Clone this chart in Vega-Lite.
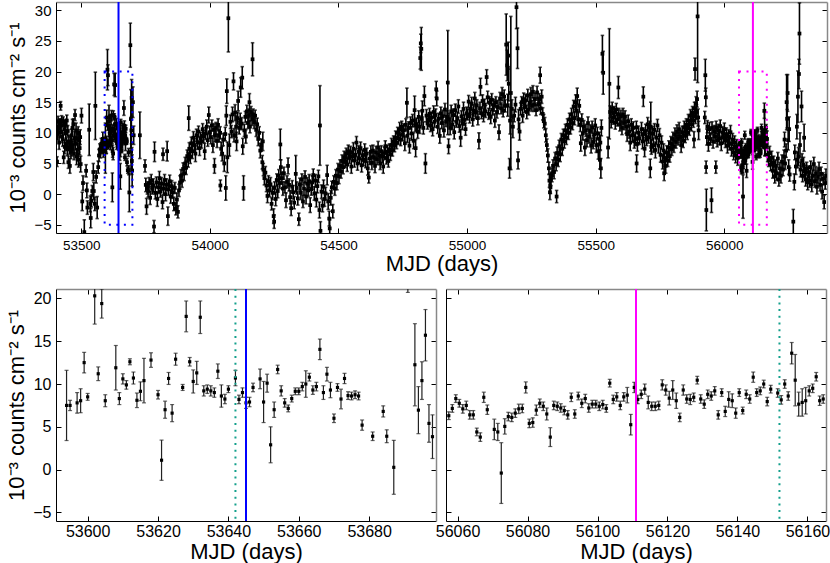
{
"$schema":"https://vega.github.io/schema/vega-lite/v6.json",
"padding":{"left":5,"top":1,"right":2,"bottom":2},
"config":{"view":{"stroke":null},"font":"Liberation Sans","axis":{"grid":false,"domainColor":"#000","tickColor":"#000","labelColor":"#000","titleColor":"#000","titleFontWeight":"normal","labelFont":"Liberation Sans","titleFont":"Liberation Sans","labelFlush":false,"labelOverlap":false,"labelBound":false,"tickSize":-5}},
"datasets":{"lc":[
{"t":53403,"f":11.0,"e":0.9},{"t":53406,"f":5.3,"e":0.8},{"t":53408,"f":9.8,"e":1.0},{"t":53410,"f":11.9,"e":0.8},{"t":53412,"f":10.7,"e":0.9},{"t":53414,"f":8.4,"e":1.1},{"t":53416,"f":11.5,"e":0.8},{"t":53418,"f":10.1,"e":0.9},{"t":53420,"f":14.4,"e":0.7},{"t":53422,"f":11.2,"e":1.0},{"t":53424,"f":12.0,"e":0.8},{"t":53426,"f":9.4,"e":1.0},{"t":53428,"f":8.9,"e":1.1},{"t":53430,"f":11.8,"e":0.8},{"t":53432,"f":6.0,"e":1.0},{"t":53434,"f":10.6,"e":0.9},{"t":53436,"f":7.7,"e":1.1},{"t":53438,"f":11.3,"e":0.9},{"t":53440,"f":9.9,"e":1.0},{"t":53442,"f":8.2,"e":1.0},{"t":53444,"f":12.0,"e":0.9},{"t":53446,"f":7.3,"e":1.0},{"t":53448,"f":10.3,"e":0.9},{"t":53450,"f":5.2,"e":1.0},{"t":53452,"f":8.6,"e":1.0},{"t":53454,"f":7.6,"e":1.1},{"t":53456,"f":4.6,"e":1.2},{"t":53458,"f":8.4,"e":0.9},{"t":53460,"f":6.9,"e":1.1},{"t":53462,"f":9.6,"e":1.0},{"t":53464,"f":7.4,"e":1.2},{"t":53466,"f":10.8,"e":1.4},{"t":53468,"f":8.0,"e":1.0},{"t":53470,"f":11.4,"e":0.9},{"t":53472,"f":6.6,"e":1.0},{"t":53474,"f":9.1,"e":1.1},{"t":53476,"f":12.9,"e":0.9},{"t":53478,"f":8.3,"e":1.1},{"t":53480,"f":10.4,"e":1.2},{"t":53482,"f":6.1,"e":1.3},{"t":53484,"f":9.0,"e":1.0},{"t":53486,"f":7.2,"e":1.1},{"t":53488,"f":10.0,"e":1.0},{"t":53490,"f":5.6,"e":1.2},{"t":53492,"f":8.8,"e":1.0},{"t":53494,"f":7.5,"e":1.1},{"t":53496,"f":9.3,"e":1.2},{"t":53498,"f":4.9,"e":1.3},{"t":53501,"f":12.8,"e":1.2},
{"t":53504,"f":-1.2,"e":1.5},{"t":53507,"f":1.8,"e":1.2},{"t":53512,"f":-6.2,"e":2.0},{"t":53519,"f":3.8,"e":1.0},{"t":53522,"f":0.6,"e":1.2},{"t":53524,"f":-2.2,"e":1.1},{"t":53531,"f":10.5,"e":4.2},{"t":53535,"f":-1.6,"e":1.3},{"t":53537,"f":-3.9,"e":1.6},{"t":53540,"f":-1.1,"e":1.0},{"t":53543,"f":0.5,"e":0.9},{"t":53547,"f":3.6,"e":1.4},{"t":53549,"f":0.5,"e":1.4},{"t":53553,"f":-1.6,"e":1.1},{"t":53555,"f":14.4,"e":5.5},{"t":53558,"f":2.8,"e":1.0},{"t":53562,"f":-2.2,"e":1.8},{"t":53566,"f":4.4,"e":1.0},{"t":53569,"f":6.3,"e":1.0},{"t":53572,"f":7.3,"e":0.9},{"t":53575,"f":6.9,"e":1.0},{"t":53578,"f":8.2,"e":0.9},{"t":53581,"f":7.6,"e":1.0},{"t":53584,"f":9.0,"e":1.1},{"t":53586,"f":7.0,"e":1.0},{"t":53588,"f":8.4,"e":0.9},
{"t":53594,"f":7.5,"e":4.1},{"t":53595,"f":7.5,"e":0.6},{"t":53597,"f":7.8,"e":1.2},{"t":53598,"f":8.05,"e":1.4},{"t":53599,"f":12.5,"e":1.2},{"t":53600,"f":8.5,"e":0.4},{"t":53602,"f":20.3,"e":3.3},{"t":53603,"f":11.2,"e":0.8},{"t":53604,"f":19.4,"e":1.7},{"t":53605,"f":8.05,"e":0.7},{"t":53608,"f":11.9,"e":2.6},{"t":53609,"f":8.3,"e":0.7},{"t":53610,"f":10.6,"e":0.6},{"t":53611,"f":9.9,"e":0.5},{"t":53612,"f":12.6,"e":0.35},{"t":53613,"f":10.7,"e":0.7},{"t":53614,"f":8.1,"e":0.85},{"t":53615,"f":9.15,"e":1.1},{"t":53616,"f":10.4,"e":2.6},{"t":53618,"f":12.8,"e":0.85},{"t":53620,"f":8.75,"e":0.5},{"t":53621,"f":1.1,"e":2.35},{"t":53622,"f":7.0,"e":1.0},{"t":53623,"f":10.65,"e":0.7},{"t":53624,"f":6.6,"e":1.0},{"t":53625,"f":12.9,"e":0.7},{"t":53627,"f":9.6,"e":0.35},{"t":53628,"f":17.9,"e":1.8},{"t":53629,"f":12.6,"e":0.5},{"t":53630,"f":10.3,"e":1.35},{"t":53631,"f":11.3,"e":1.35},{"t":53632,"f":17.8,"e":1.9},{"t":53633,"f":9.2,"e":0.6},{"t":53634,"f":9.4,"e":0.5},{"t":53635,"f":9.2,"e":0.6},{"t":53636,"f":9.0,"e":0.55},{"t":53637,"f":11.5,"e":0.85},{"t":53638,"f":8.6,"e":1.3},{"t":53639,"f":8.25,"e":0.55},{"t":53640,"f":9.4,"e":0.4},{"t":53642,"f":10.7,"e":0.9},{"t":53643,"f":8.2,"e":0.5},{"t":53644,"f":9.0,"e":0.55},{"t":53645,"f":7.8,"e":0.65},{"t":53646,"f":7.9,"e":0.55},{"t":53647,"f":9.6,"e":0.5},{"t":53649,"f":10.6,"e":1.15},{"t":53650,"f":7.9,"e":2.4},{"t":53651,"f":10.1,"e":1.05},{"t":53652,"f":2.9,"e":2.1},{"t":53653,"f":7.0,"e":0.9},{"t":53654,"f":11.7,"e":0.5},{"t":53655,"f":9.2,"e":0.6},{"t":53656,"f":7.8,"e":0.5},{"t":53657,"f":7.15,"e":0.4},{"t":53658,"f":8.3,"e":0.4},{"t":53659,"f":9.15,"e":0.4},{"t":53660,"f":9.15,"e":0.4},{"t":53661,"f":9.7,"e":0.5},{"t":53662,"f":10.0,"e":1.55},{"t":53663,"f":10.8,"e":0.45},{"t":53664,"f":9.3,"e":0.5},{"t":53665,"f":9.7,"e":0.5},{"t":53666,"f":14.05,"e":1.2},{"t":53667,"f":9.0,"e":0.8},{"t":53668,"f":11.15,"e":0.8},{"t":53669,"f":9.3,"e":0.9},{"t":53670,"f":6.0,"e":0.5},{"t":53671,"f":9.6,"e":0.45},{"t":53672,"f":8.25,"e":1.15},{"t":53673,"f":10.65,"e":0.6},{"t":53674,"f":8.65,"e":0.45},{"t":53675,"f":8.6,"e":0.45},{"t":53676,"f":8.75,"e":0.45},{"t":53677,"f":8.6,"e":0.45},{"t":53678,"f":5.2,"e":0.6},{"t":53681,"f":3.9,"e":0.5},{"t":53684,"f":6.8,"e":0.65},{"t":53685,"f":3.9,"e":0.75},{"t":53687,"f":0.27,"e":3.15},{"t":53691,"f":24.3,"e":3.6},{"t":53693,"f":12.25,"e":4.8},{"t":53694,"f":6.95,"e":2.75},{"t":53695,"f":10.4,"e":2.2},{"t":53696,"f":15.7,"e":3.0},{"t":53697,"f":5.4,"e":2.2},{"t":53698,"f":3.85,"e":2.55},{"t":53701,"f":15.0,"e":2.5},{"t":53704,"f":9.6,"e":1.5},{"t":53728,"f":9.6,"e":3.8},
{"t":53748,"f":4.6,"e":1.0},{"t":53751,"f":1.5,"e":1.1},{"t":53754,"f":-2.0,"e":1.3},{"t":53757,"f":1.0,"e":1.0},{"t":53760,"f":0.5,"e":1.0},{"t":53764,"f":1.8,"e":0.9},{"t":53768,"f":-0.6,"e":1.1},{"t":53772,"f":2.2,"e":1.0},{"t":53776,"f":0.9,"e":0.9},{"t":53780,"f":1.4,"e":1.1},{"t":53783,"f":-5.3,"e":1.0},{"t":53785,"f":6.9,"e":1.6},{"t":53788,"f":0.2,"e":1.0},{"t":53792,"f":1.9,"e":0.9},{"t":53796,"f":-0.8,"e":1.2},{"t":53800,"f":1.1,"e":1.0},{"t":53804,"f":2.6,"e":1.1},{"t":53808,"f":0.4,"e":0.9},{"t":53812,"f":1.7,"e":1.0},{"t":53816,"f":-1.3,"e":1.1},{"t":53818,"f":6.5,"e":1.0},{"t":53820,"f":0.9,"e":1.0},{"t":53824,"f":2.3,"e":0.9},{"t":53828,"f":0.0,"e":1.1},{"t":53832,"f":1.5,"e":1.0},{"t":53834,"f":7.0,"e":1.6},{"t":53837,"f":-3.6,"e":1.5},{"t":53840,"f":0.8,"e":1.0},{"t":53844,"f":2.1,"e":1.0},{"t":53848,"f":-0.4,"e":1.1},{"t":53852,"f":1.3,"e":0.9},{"t":53856,"f":0.3,"e":1.0},{"t":53860,"f":-1.6,"e":1.1},{"t":53864,"f":1.0,"e":0.9},{"t":53868,"f":-2.4,"e":1.0},{"t":53872,"f":-0.9,"e":1.1},{"t":53876,"f":-2.9,"e":1.0},{"t":53880,"f":0.6,"e":1.0},{"t":53884,"f":1.9,"e":1.1},{"t":53888,"f":3.0,"e":1.0},{"t":53892,"f":2.2,"e":1.1},{"t":53896,"f":4.1,"e":1.0},{"t":53900,"f":3.4,"e":1.2},{"t":53904,"f":5.0,"e":1.0},{"t":53908,"f":4.3,"e":1.1},{"t":53912,"f":6.2,"e":1.0},{"t":53916,"f":5.6,"e":1.2},{"t":53918,"f":12.4,"e":2.0},{"t":53920,"f":7.4,"e":1.0},{"t":53924,"f":6.1,"e":1.1},{"t":53928,"f":8.3,"e":1.0},{"t":53932,"f":7.0,"e":1.2},{"t":53936,"f":9.2,"e":1.0},{"t":53940,"f":8.0,"e":1.1},{"t":53944,"f":6.6,"e":1.3},{"t":53948,"f":9.6,"e":1.0},{"t":53952,"f":8.4,"e":1.1},{"t":53956,"f":10.2,"e":0.9},{"t":53960,"f":7.5,"e":1.2},{"t":53964,"f":9.1,"e":1.0},{"t":53968,"f":8.6,"e":1.1},{"t":53972,"f":10.6,"e":0.9},{"t":53976,"f":9.4,"e":1.0},{"t":53980,"f":7.0,"e":1.3},{"t":53984,"f":9.9,"e":1.0},{"t":53988,"f":11.0,"e":1.1},{"t":53992,"f":8.8,"e":1.0},{"t":53996,"f":12.9,"e":1.3},
{"t":54000,"f":10.1,"e":1.0},{"t":54004,"f":9.3,"e":1.1},{"t":54008,"f":11.2,"e":0.9},{"t":54012,"f":8.0,"e":1.2},{"t":54016,"f":10.5,"e":1.0},{"t":54018,"f":4.6,"e":1.2},{"t":54020,"f":9.6,"e":1.1},{"t":54024,"f":10.8,"e":0.9},{"t":54028,"f":8.7,"e":1.1},{"t":54032,"f":11.3,"e":1.0},{"t":54036,"f":9.5,"e":1.0},{"t":54040,"f":10.0,"e":1.0},{"t":54041,"f":1.4,"e":0.9},{"t":54044,"f":7.4,"e":1.1},{"t":54048,"f":6.6,"e":1.2},{"t":54052,"f":8.9,"e":1.0},{"t":54056,"f":5.0,"e":1.3},{"t":54060,"f":9.8,"e":1.1},{"t":54062,"f":1.0,"e":2.0},{"t":54064,"f":12.8,"e":1.6},{"t":54066,"f":16.8,"e":2.0},{"t":54068,"f":6.0,"e":2.5},{"t":54072,"f":28.7,"e":5.5},{"t":54076,"f":8.0,"e":1.8},
{"t":54080,"f":11.8,"e":1.1},{"t":54084,"f":10.2,"e":1.0},{"t":54088,"f":13.0,"e":1.2},{"t":54092,"f":18.4,"e":1.4},{"t":54094,"f":9.6,"e":1.1},{"t":54098,"f":13.3,"e":1.3},{"t":54102,"f":11.0,"e":1.8},{"t":54104,"f":8.6,"e":1.5},{"t":54108,"f":12.4,"e":1.0},{"t":54110,"f":15.2,"e":1.6},{"t":54114,"f":10.8,"e":1.0},{"t":54118,"f":12.1,"e":1.1},{"t":54120,"f":17.4,"e":1.6},{"t":54124,"f":11.5,"e":1.0},{"t":54126,"f":19.0,"e":1.8},{"t":54128,"f":7.8,"e":1.3},{"t":54131,"f":1.0,"e":2.0},{"t":54134,"f":10.4,"e":1.0},{"t":54138,"f":12.6,"e":0.9},{"t":54140,"f":9.4,"e":1.1},{"t":54144,"f":13.5,"e":1.0},{"t":54148,"f":11.6,"e":0.9},{"t":54152,"f":12.9,"e":1.0},{"t":54154,"f":15.0,"e":1.4},{"t":54156,"f":11.0,"e":1.0},{"t":54160,"f":13.4,"e":0.9},{"t":54164,"f":12.2,"e":1.0},{"t":54166,"f":22.0,"e":2.7},{"t":54168,"f":13.0,"e":0.9},{"t":54172,"f":11.7,"e":1.0},{"t":54176,"f":12.8,"e":0.9},{"t":54180,"f":10.5,"e":1.1},{"t":54184,"f":11.4,"e":1.0},{"t":54188,"f":9.0,"e":1.1},{"t":54192,"f":10.0,"e":1.0},{"t":54196,"f":7.1,"e":1.2},{"t":54200,"f":8.0,"e":1.0},{"t":54204,"f":5.2,"e":1.1},{"t":54206,"f":8.6,"e":1.5},{"t":54208,"f":4.0,"e":1.0},{"t":54212,"f":2.6,"e":1.1},{"t":54216,"f":3.5,"e":1.0},
{"t":54220,"f":1.4,"e":1.0},{"t":54224,"f":-0.3,"e":1.1},{"t":54228,"f":2.1,"e":0.9},{"t":54232,"f":0.6,"e":1.0},{"t":54236,"f":1.6,"e":1.1},{"t":54240,"f":-1.6,"e":1.0},{"t":54244,"f":0.2,"e":1.1},{"t":54248,"f":-3.6,"e":1.2},{"t":54250,"f":-4.5,"e":1.1},{"t":54252,"f":1.0,"e":1.0},{"t":54256,"f":-0.8,"e":1.1},{"t":54260,"f":2.3,"e":1.0},{"t":54264,"f":0.5,"e":1.1},{"t":54268,"f":3.0,"e":1.0},{"t":54272,"f":1.8,"e":0.9},{"t":54274,"f":8.1,"e":2.5},{"t":54276,"f":4.4,"e":1.2},{"t":54280,"f":2.6,"e":1.0},{"t":54284,"f":0.9,"e":1.1},{"t":54288,"f":3.4,"e":1.0},{"t":54292,"f":1.1,"e":0.9},{"t":54296,"f":-1.0,"e":1.2},{"t":54300,"f":2.0,"e":1.0},{"t":54304,"f":4.6,"e":1.3},{"t":54308,"f":1.5,"e":1.0},{"t":54312,"f":-0.5,"e":1.1},{"t":54316,"f":-2.3,"e":1.2},{"t":54320,"f":1.2,"e":1.0},{"t":54324,"f":0.3,"e":1.1},{"t":54328,"f":-1.4,"e":1.0},
{"t":54334,"f":3.3,"e":3.0},{"t":54338,"f":1.0,"e":1.0},{"t":54342,"f":-0.7,"e":1.1},{"t":54346,"f":-4.1,"e":1.0},{"t":54350,"f":1.6,"e":1.0},{"t":54354,"f":0.2,"e":1.1},{"t":54358,"f":2.4,"e":0.9},{"t":54362,"f":-1.2,"e":1.0},{"t":54366,"f":0.9,"e":1.1},{"t":54370,"f":2.8,"e":1.0},{"t":54374,"f":-0.4,"e":1.2},{"t":54378,"f":1.7,"e":1.0},{"t":54382,"f":0.6,"e":1.0},{"t":54386,"f":2.1,"e":1.1},{"t":54390,"f":-1.8,"e":1.2},{"t":54394,"f":0.8,"e":1.0},{"t":54398,"f":1.9,"e":1.1},{"t":54402,"f":3.1,"e":1.0},{"t":54406,"f":0.1,"e":1.1},{"t":54410,"f":2.2,"e":1.0},{"t":54414,"f":-0.9,"e":1.2},{"t":54418,"f":1.3,"e":1.1},{"t":54422,"f":2.9,"e":1.0},{"t":54426,"f":-2.6,"e":1.3},{"t":54428,"f":11.2,"e":6.5},{"t":54430,"f":-6.0,"e":1.5},{"t":54434,"f":0.4,"e":1.1},{"t":54438,"f":-1.9,"e":1.0},{"t":54442,"f":1.2,"e":1.1},{"t":54446,"f":-0.8,"e":1.2},{"t":54450,"f":0.1,"e":1.0},{"t":54456,"f":3.1,"e":1.6},{"t":54460,"f":-1.2,"e":1.3},{"t":54464,"f":-4.0,"e":1.2},{"t":54466,"f":-5.6,"e":1.4},{"t":54470,"f":-0.6,"e":1.2},{"t":54474,"f":1.1,"e":1.0},{"t":54478,"f":-2.8,"e":1.1},{"t":54482,"f":2.0,"e":1.0},{"t":54486,"f":0.9,"e":1.1},{"t":54490,"f":3.0,"e":1.0},{"t":54494,"f":1.8,"e":1.1},{"t":54498,"f":4.0,"e":1.0},{"t":54502,"f":2.9,"e":1.2},{"t":54506,"f":4.6,"e":1.0},{"t":54510,"f":3.7,"e":1.1},{"t":54514,"f":5.4,"e":1.0},{"t":54518,"f":4.4,"e":1.1},{"t":54522,"f":6.0,"e":1.0},
{"t":54526,"f":5.3,"e":1.0},{"t":54530,"f":6.6,"e":0.9},{"t":54534,"f":4.8,"e":1.1},{"t":54538,"f":7.0,"e":1.0},{"t":54542,"f":5.9,"e":0.9},{"t":54546,"f":6.8,"e":1.0},{"t":54550,"f":4.5,"e":1.1},{"t":54554,"f":6.2,"e":0.9},{"t":54558,"f":7.4,"e":1.0},{"t":54562,"f":5.5,"e":1.1},{"t":54566,"f":6.4,"e":0.9},{"t":54570,"f":8.4,"e":1.0},{"t":54574,"f":5.0,"e":1.1},{"t":54578,"f":6.9,"e":1.0},{"t":54582,"f":5.8,"e":0.9},{"t":54586,"f":7.5,"e":1.0},{"t":54590,"f":4.7,"e":1.1},{"t":54594,"f":6.3,"e":0.9},{"t":54598,"f":5.6,"e":1.0},{"t":54602,"f":7.2,"e":1.0},{"t":54606,"f":5.4,"e":1.1},{"t":54610,"f":6.6,"e":0.9},{"t":54614,"f":4.2,"e":1.1},{"t":54618,"f":2.7,"e":0.9},{"t":54622,"f":5.8,"e":1.0},{"t":54626,"f":6.9,"e":1.0},{"t":54630,"f":5.1,"e":1.1},{"t":54634,"f":7.1,"e":0.9},{"t":54638,"f":6.0,"e":1.0},{"t":54642,"f":4.6,"e":1.1},{"t":54646,"f":6.8,"e":1.0},{"t":54650,"f":5.7,"e":0.9},{"t":54654,"f":7.6,"e":1.0},{"t":54658,"f":6.3,"e":1.1},{"t":54662,"f":5.0,"e":1.0},{"t":54666,"f":7.0,"e":0.9},{"t":54670,"f":6.1,"e":1.0},{"t":54674,"f":4.5,"e":1.1},{"t":54678,"f":6.7,"e":1.0},{"t":54682,"f":7.8,"e":0.9},{"t":54686,"f":5.9,"e":1.0},{"t":54690,"f":6.9,"e":1.1},{"t":54694,"f":5.4,"e":1.0},{"t":54698,"f":7.3,"e":0.9},{"t":54702,"f":6.5,"e":1.0},{"t":54706,"f":8.0,"e":1.1},
{"t":54710,"f":7.2,"e":1.0},{"t":54714,"f":8.6,"e":0.9},{"t":54718,"f":7.9,"e":1.0},{"t":54722,"f":9.2,"e":1.1},{"t":54726,"f":8.4,"e":1.0},{"t":54730,"f":10.0,"e":0.9},{"t":54734,"f":9.1,"e":1.0},{"t":54738,"f":10.6,"e":1.1},{"t":54742,"f":8.9,"e":1.0},{"t":54746,"f":11.0,"e":0.9},{"t":54750,"f":9.7,"e":1.0},{"t":54754,"f":10.4,"e":1.1},{"t":54758,"f":8.3,"e":1.2},{"t":54762,"f":11.3,"e":1.0},{"t":54766,"f":14.9,"e":2.4},{"t":54768,"f":9.5,"e":1.1},{"t":54772,"f":10.8,"e":1.0},{"t":54776,"f":7.9,"e":1.2},{"t":54780,"f":11.6,"e":1.0},{"t":54784,"f":9.9,"e":1.1},{"t":54788,"f":12.0,"e":1.0},{"t":54792,"f":8.7,"e":1.3},{"t":54796,"f":13.7,"e":2.3},{"t":54798,"f":11.2,"e":1.0},{"t":54800,"f":7.5,"e":1.4},{"t":54804,"f":11.4,"e":1.0},{"t":54808,"f":10.2,"e":1.1},{"t":54812,"f":12.6,"e":1.0},{"t":54816,"f":11.0,"e":1.1},{"t":54818,"f":22.2,"e":1.8},{"t":54820,"f":24.6,"e":1.5},{"t":54822,"f":23.7,"e":3.5},{"t":54824,"f":12.4,"e":1.2},{"t":54826,"f":13.6,"e":1.6},{"t":54830,"f":10.8,"e":1.0},{"t":54834,"f":16.0,"e":1.6},{"t":54838,"f":5.0,"e":1.6},{"t":54842,"f":12.8,"e":1.0},{"t":54846,"f":11.5,"e":0.9},
{"t":54850,"f":12.0,"e":1.0},{"t":54854,"f":13.1,"e":0.9},{"t":54858,"f":11.2,"e":1.0},{"t":54862,"f":12.5,"e":0.9},{"t":54866,"f":10.6,"e":1.1},{"t":54870,"f":13.4,"e":1.0},{"t":54874,"f":11.8,"e":0.9},{"t":54878,"f":12.9,"e":1.0},{"t":54880,"f":17.1,"e":1.3},{"t":54882,"f":15.6,"e":1.2},{"t":54886,"f":11.0,"e":1.1},{"t":54890,"f":12.3,"e":0.9},{"t":54894,"f":9.5,"e":1.2},{"t":54898,"f":13.2,"e":1.0},{"t":54902,"f":11.6,"e":0.9},{"t":54906,"f":12.7,"e":1.0},{"t":54910,"f":10.4,"e":1.1},{"t":54914,"f":13.8,"e":1.0},{"t":54918,"f":11.9,"e":0.9},{"t":54922,"f":12.6,"e":1.0},{"t":54925,"f":18.2,"e":8.5},{"t":54928,"f":7.8,"e":1.2},{"t":54930,"f":12.2,"e":1.0},{"t":54934,"f":10.8,"e":1.1},{"t":54938,"f":13.5,"e":1.0},{"t":54942,"f":11.4,"e":0.9},{"t":54946,"f":12.9,"e":1.0},{"t":54950,"f":10.1,"e":1.1},{"t":54954,"f":13.7,"e":1.0},{"t":54958,"f":11.8,"e":0.9},{"t":54962,"f":12.4,"e":1.0},{"t":54966,"f":14.3,"e":1.1},{"t":54970,"f":11.1,"e":1.0},{"t":54975,"f":9.2,"e":1.4},{"t":54978,"f":12.7,"e":0.9},{"t":54982,"f":11.5,"e":1.0},{"t":54986,"f":13.9,"e":1.1},{"t":54990,"f":12.1,"e":0.9},{"t":54994,"f":10.6,"e":1.0},{"t":54998,"f":13.2,"e":1.0},
{"t":55002,"f":13.0,"e":0.9},{"t":55006,"f":15.1,"e":1.0},{"t":55010,"f":12.7,"e":1.1},{"t":55014,"f":13.9,"e":0.9},{"t":55018,"f":14.8,"e":1.0},{"t":55022,"f":12.2,"e":1.1},{"t":55026,"f":13.6,"e":0.9},{"t":55030,"f":15.6,"e":1.0},{"t":55034,"f":13.3,"e":1.0},{"t":55038,"f":14.5,"e":0.9},{"t":55042,"f":12.4,"e":1.1},{"t":55046,"f":8.7,"e":1.3},{"t":55050,"f":14.0,"e":1.0},{"t":55052,"f":17.5,"e":1.4},{"t":55056,"f":13.2,"e":0.9},{"t":55060,"f":15.2,"e":1.0},{"t":55064,"f":12.9,"e":1.1},{"t":55068,"f":14.6,"e":0.9},{"t":55072,"f":13.5,"e":1.0},{"t":55076,"f":19.1,"e":1.2},{"t":55080,"f":15.8,"e":1.0},{"t":55084,"f":13.1,"e":0.9},{"t":55088,"f":14.9,"e":1.0},{"t":55092,"f":12.6,"e":1.1},{"t":55096,"f":15.4,"e":1.0},{"t":55100,"f":13.8,"e":0.9},{"t":55104,"f":14.5,"e":1.0},{"t":55108,"f":12.0,"e":1.1},{"t":55112,"f":15.0,"e":0.9},{"t":55116,"f":13.4,"e":1.0},{"t":55120,"f":14.2,"e":1.1},{"t":55124,"f":10.1,"e":1.2},{"t":55128,"f":15.6,"e":1.0},{"t":55132,"f":14.0,"e":0.9},{"t":55136,"f":16.3,"e":1.1},{"t":55140,"f":13.6,"e":1.0},{"t":55144,"f":15.9,"e":1.1},{"t":55148,"f":14.4,"e":1.0},
{"t":55152,"f":24.4,"e":5.0},{"t":55156,"f":21.0,"e":2.5},{"t":55158,"f":14.5,"e":1.8},{"t":55160,"f":22.6,"e":2.2},{"t":55162,"f":18.0,"e":2.8},{"t":55165,"f":4.2,"e":1.6},{"t":55167,"f":12.0,"e":2.2},{"t":55170,"f":16.5,"e":12.5},{"t":55174,"f":13.9,"e":1.5},{"t":55178,"f":11.0,"e":1.8},{"t":55183,"f":12.8,"e":1.0},{"t":55188,"f":14.6,"e":1.2},{"t":55192,"f":30.5,"e":3.5},{"t":55196,"f":23.8,"e":3.3},{"t":55198,"f":5.5,"e":1.4},{"t":55200,"f":12.2,"e":1.6},
{"t":55204,"f":10.2,"e":1.4},{"t":55208,"f":13.9,"e":1.0},{"t":55212,"f":15.0,"e":0.9},{"t":55216,"f":12.8,"e":1.1},{"t":55220,"f":15.5,"e":1.0},{"t":55224,"f":14.2,"e":0.9},{"t":55228,"f":15.3,"e":1.0},{"t":55232,"f":13.4,"e":1.1},{"t":55236,"f":16.1,"e":1.0},{"t":55240,"f":13.8,"e":0.9},{"t":55244,"f":14.9,"e":1.0},{"t":55248,"f":16.3,"e":1.1},{"t":55252,"f":14.4,"e":0.9},{"t":55256,"f":16.7,"e":1.0},{"t":55260,"f":14.6,"e":1.1},{"t":55264,"f":15.5,"e":1.0},{"t":55268,"f":13.7,"e":0.9},{"t":55272,"f":16.6,"e":1.0},{"t":55276,"f":14.7,"e":1.1},{"t":55280,"f":15.4,"e":1.0},{"t":55284,"f":19.4,"e":1.3},{"t":55286,"f":14.0,"e":1.0},{"t":55290,"f":15.9,"e":1.1},{"t":55294,"f":13.1,"e":1.0},{"t":55298,"f":11.9,"e":1.1},
{"t":55302,"f":11.5,"e":1.0},{"t":55306,"f":9.6,"e":1.1},{"t":55310,"f":8.0,"e":1.0},{"t":55314,"f":6.3,"e":1.1},{"t":55318,"f":4.2,"e":1.0},{"t":55320,"f":2.2,"e":1.1},{"t":55322,"f":0.3,"e":1.2},{"t":55324,"f":1.1,"e":1.0},{"t":55326,"f":2.5,"e":1.1},{"t":55330,"f":3.1,"e":1.1},{"t":55334,"f":4.6,"e":1.0},{"t":55338,"f":3.6,"e":1.1},{"t":55342,"f":5.8,"e":1.0},{"t":55346,"f":4.9,"e":1.1},{"t":55348,"f":-0.4,"e":1.0},{"t":55350,"f":6.7,"e":1.0},{"t":55354,"f":5.6,"e":1.1},{"t":55358,"f":7.8,"e":1.0},{"t":55362,"f":6.5,"e":1.2},{"t":55366,"f":8.9,"e":1.0},{"t":55370,"f":7.4,"e":1.1},{"t":55374,"f":9.6,"e":1.0},{"t":55378,"f":8.6,"e":1.1},{"t":55382,"f":10.4,"e":1.0},{"t":55386,"f":9.2,"e":1.1},{"t":55390,"f":11.3,"e":1.0},{"t":55394,"f":10.0,"e":1.1},{"t":55398,"f":12.2,"e":1.0},{"t":55402,"f":10.9,"e":1.1},{"t":55406,"f":13.0,"e":1.0},{"t":55410,"f":11.6,"e":1.1},{"t":55414,"f":14.3,"e":1.0},{"t":55418,"f":12.4,"e":1.1},{"t":55422,"f":15.0,"e":1.2},{"t":55426,"f":13.6,"e":1.0},{"t":55428,"f":16.0,"e":1.3},{"t":55432,"f":12.2,"e":1.1},{"t":55436,"f":14.4,"e":1.0},{"t":55440,"f":11.3,"e":1.1},{"t":55442,"f":8.3,"e":1.3},
{"t":55446,"f":12.1,"e":1.0},{"t":55450,"f":9.9,"e":1.1},{"t":55454,"f":11.0,"e":1.0},{"t":55458,"f":7.6,"e":1.3},{"t":55462,"f":10.4,"e":1.0},{"t":55466,"f":8.8,"e":1.1},{"t":55470,"f":11.6,"e":1.0},{"t":55474,"f":9.4,"e":1.1},{"t":55478,"f":10.3,"e":1.0},{"t":55482,"f":7.9,"e":1.2},{"t":55486,"f":10.9,"e":1.0},{"t":55490,"f":8.5,"e":1.1},{"t":55494,"f":9.7,"e":1.0},{"t":55498,"f":11.2,"e":1.1},{"t":55502,"f":8.0,"e":1.2},{"t":55506,"f":9.9,"e":1.0},{"t":55510,"f":7.0,"e":1.3},{"t":55514,"f":9.0,"e":1.1},{"t":55516,"f":5.6,"e":1.5},{"t":55518,"f":8.4,"e":1.2},{"t":55520,"f":4.2,"e":1.6},{"t":55522,"f":10.8,"e":1.3},{"t":55526,"f":22.9,"e":3.0},{"t":55529,"f":19.8,"e":3.5},{"t":55548,"f":7.6,"e":1.7},{"t":55553,"f":18.0,"e":9.0},
{"t":55556,"f":13.4,"e":1.0},{"t":55560,"f":11.9,"e":1.1},{"t":55564,"f":14.0,"e":1.0},{"t":55568,"f":12.5,"e":1.1},{"t":55572,"f":13.3,"e":1.0},{"t":55576,"f":11.7,"e":1.1},{"t":55580,"f":13.8,"e":1.0},{"t":55584,"f":12.2,"e":1.1},{"t":55588,"f":17.4,"e":1.8},{"t":55590,"f":13.0,"e":1.0},{"t":55594,"f":11.4,"e":1.1},{"t":55598,"f":12.7,"e":1.0},{"t":55602,"f":10.8,"e":1.1},{"t":55606,"f":13.0,"e":1.0},{"t":55610,"f":11.6,"e":1.1},{"t":55614,"f":12.6,"e":1.0},{"t":55618,"f":11.0,"e":1.1},{"t":55622,"f":9.8,"e":1.2},{"t":55626,"f":11.9,"e":1.0},{"t":55630,"f":10.2,"e":1.1},{"t":55634,"f":8.4,"e":1.3},{"t":55638,"f":11.3,"e":1.0},{"t":55642,"f":9.6,"e":1.1},{"t":55646,"f":10.8,"e":1.0},
{"t":55650,"f":8.6,"e":1.1},{"t":55654,"f":9.0,"e":1.1},{"t":55658,"f":10.9,"e":1.0},{"t":55659,"f":5.0,"e":1.4},{"t":55662,"f":8.2,"e":1.2},{"t":55666,"f":10.0,"e":1.1},{"t":55670,"f":9.1,"e":1.0},{"t":55678,"f":10.6,"e":1.1},{"t":55682,"f":8.6,"e":1.2},{"t":55685,"f":15.9,"e":1.6},{"t":55686,"f":9.8,"e":1.0},{"t":55690,"f":7.4,"e":1.3},{"t":55694,"f":10.3,"e":1.1},{"t":55698,"f":8.9,"e":1.0},{"t":55702,"f":11.4,"e":1.1},{"t":55706,"f":9.3,"e":1.0},{"t":55710,"f":10.8,"e":1.1},{"t":55712,"f":4.2,"e":1.5},{"t":55714,"f":11.0,"e":4.0},{"t":55716,"f":7.7,"e":1.2},{"t":55720,"f":9.9,"e":1.1},{"t":55724,"f":8.0,"e":1.2},{"t":55728,"f":10.5,"e":1.0},{"t":55732,"f":7.2,"e":1.3},{"t":55736,"f":9.2,"e":1.1},{"t":55740,"f":11.2,"e":1.0},{"t":55744,"f":7.9,"e":1.2},{"t":55748,"f":9.6,"e":1.1},{"t":55752,"f":6.4,"e":1.2},{"t":55756,"f":8.4,"e":1.1},{"t":55760,"f":5.3,"e":1.2},{"t":55764,"f":7.1,"e":1.1},{"t":55766,"f":3.4,"e":1.2},{"t":55768,"f":5.9,"e":1.1},{"t":55772,"f":4.6,"e":1.2},{"t":55776,"f":6.8,"e":1.1},{"t":55780,"f":5.5,"e":1.0},{"t":55784,"f":7.6,"e":1.1},{"t":55788,"f":6.2,"e":1.0},{"t":55792,"f":8.3,"e":1.1},{"t":55796,"f":7.3,"e":1.0},{"t":55800,"f":9.0,"e":1.1},{"t":55804,"f":7.8,"e":1.0},{"t":55808,"f":9.7,"e":1.1},{"t":55812,"f":8.5,"e":1.0},{"t":55816,"f":10.2,"e":1.1},{"t":55820,"f":9.0,"e":1.0},{"t":55824,"f":10.6,"e":1.1},{"t":55828,"f":9.4,"e":1.0},{"t":55832,"f":8.0,"e":1.2},
{"t":55836,"f":10.1,"e":1.0},{"t":55840,"f":8.7,"e":1.1},{"t":55844,"f":10.9,"e":1.0},{"t":55848,"f":9.5,"e":1.1},{"t":55852,"f":11.3,"e":1.0},{"t":55856,"f":10.0,"e":1.1},{"t":55860,"f":12.0,"e":1.0},{"t":55864,"f":10.7,"e":1.1},{"t":55868,"f":12.8,"e":1.0},{"t":55872,"f":11.4,"e":1.1},{"t":55876,"f":13.3,"e":1.0},{"t":55880,"f":12.0,"e":1.1},{"t":55882,"f":8.9,"e":1.3},{"t":55884,"f":14.0,"e":1.0},{"t":55886,"f":20.4,"e":1.8},{"t":55888,"f":12.7,"e":1.2},{"t":55890,"f":14.8,"e":1.1},{"t":55892,"f":13.4,"e":1.2},{"t":55894,"f":15.5,"e":1.3},{"t":55896,"f":29.0,"e":10.8},{"t":55898,"f":12.5,"e":1.4},{"t":55900,"f":10.4,"e":1.5},
{"t":55924,"f":12.5,"e":1.0},{"t":55926,"f":19.4,"e":2.6},{"t":55928,"f":15.8,"e":1.5},{"t":55929,"f":4.4,"e":1.0},{"t":55930,"f":-2.6,"e":3.4},{"t":55932,"f":9.3,"e":1.3},{"t":55934,"f":11.0,"e":1.0},{"t":55938,"f":8.2,"e":1.2},{"t":55942,"f":10.6,"e":1.1},{"t":55946,"f":9.0,"e":1.0},{"t":55950,"f":-1.0,"e":2.0},{"t":55952,"f":10.8,"e":1.0},{"t":55956,"f":8.6,"e":1.1},{"t":55960,"f":10.2,"e":1.0},{"t":55964,"f":9.4,"e":1.1},{"t":55967,"f":4.4,"e":1.0},{"t":55968,"f":10.9,"e":1.0},{"t":55972,"f":8.8,"e":1.1},{"t":55976,"f":10.4,"e":1.0},{"t":55980,"f":9.1,"e":1.1},{"t":55984,"f":11.1,"e":1.0},{"t":55988,"f":8.3,"e":1.2},{"t":55992,"f":10.0,"e":1.0},{"t":55996,"f":9.3,"e":1.1},{"t":56000,"f":10.6,"e":1.0},{"t":56004,"f":8.7,"e":1.1},{"t":56008,"f":9.8,"e":1.0},{"t":56012,"f":7.9,"e":1.2},{"t":56016,"f":9.4,"e":1.1},{"t":56020,"f":8.2,"e":1.0},{"t":56024,"f":10.1,"e":1.1},{"t":56028,"f":7.4,"e":1.2},{"t":56032,"f":8.9,"e":1.0},{"t":56036,"f":6.8,"e":1.2},{"t":56040,"f":8.4,"e":1.1},{"t":56044,"f":6.3,"e":1.2},{"t":56048,"f":7.8,"e":1.1},{"t":56052,"f":5.9,"e":1.2},{"t":56055,"f":7.1,"e":1.1},
{"t":56057.5,"f":6.3,"e":0.45},{"t":56058.5,"f":7.15,"e":0.45},{"t":56059.5,"f":8.3,"e":0.45},{"t":56060.5,"f":7.75,"e":0.45},{"t":56061.5,"f":7.1,"e":0.5},{"t":56062.5,"f":7.5,"e":0.5},{"t":56063.5,"f":6.4,"e":0.5},{"t":56064.5,"f":6.4,"e":0.5},{"t":56065.5,"f":4.4,"e":0.45},{"t":56066.5,"f":3.8,"e":0.5},{"t":56067.5,"f":8.45,"e":0.6},{"t":56068.5,"f":7.0,"e":0.55},{"t":56070.5,"f":4.7,"e":1.2},{"t":56071.5,"f":4.4,"e":1.0},{"t":56072.5,"f":-0.4,"e":3.55},{"t":56073.5,"f":5.05,"e":0.9},{"t":56074.5,"f":6.2,"e":0.5},{"t":56075.5,"f":6.1,"e":0.5},{"t":56076.5,"f":6.6,"e":0.5},{"t":56077.5,"f":7.1,"e":0.55},{"t":56078.5,"f":7.15,"e":0.5},{"t":56079.5,"f":9.6,"e":0.65},{"t":56080.5,"f":5.4,"e":0.5},{"t":56081.5,"f":5.5,"e":0.55},{"t":56082.5,"f":6.95,"e":0.6},{"t":56083.5,"f":7.75,"e":0.5},{"t":56084.5,"f":7.4,"e":0.5},{"t":56085.5,"f":6.5,"e":0.7},{"t":56086.5,"f":3.8,"e":1.1},{"t":56087.5,"f":7.5,"e":0.5},{"t":56088.5,"f":7.4,"e":0.5},{"t":56089.5,"f":7.2,"e":0.5},{"t":56090.5,"f":6.9,"e":0.5},{"t":56091.5,"f":6.4,"e":0.5},{"t":56092.5,"f":8.45,"e":0.5},{"t":56093.5,"f":6.5,"e":0.5},{"t":56094.5,"f":8.6,"e":0.45},{"t":56095.5,"f":7.75,"e":0.5},{"t":56096.5,"f":8.3,"e":0.5},{"t":56097.5,"f":7.2,"e":0.5},{"t":56098.5,"f":7.65,"e":0.45},{"t":56099.5,"f":7.65,"e":0.45},{"t":56100.5,"f":7.4,"e":0.5},{"t":56101.5,"f":7.6,"e":0.5},{"t":56102.5,"f":7.15,"e":0.45},{"t":56103.5,"f":10.1,"e":0.45},{"t":56104.5,"f":8.2,"e":0.5},{"t":56105.5,"f":8.5,"e":0.5},{"t":56106.5,"f":7.5,"e":0.5},{"t":56107.5,"f":8.5,"e":0.5},{"t":56108.5,"f":8.7,"e":0.9},{"t":56109.5,"f":5.25,"e":1.2},{"t":56110.5,"f":9.6,"e":0.6},{"t":56111.5,"f":8.2,"e":0.5},{"t":56112.5,"f":8.8,"e":0.5},{"t":56113.5,"f":9.4,"e":0.6},{"t":56114.5,"f":7.85,"e":0.75},{"t":56115.5,"f":7.4,"e":0.5},{"t":56116.5,"f":7.4,"e":0.5},{"t":56117.5,"f":7.5,"e":0.5},{"t":56118.5,"f":9.9,"e":0.6},{"t":56119.5,"f":9.3,"e":0.6},{"t":56120.5,"f":8.35,"e":0.8},{"t":56121.5,"f":9.3,"e":1.1},{"t":56122.5,"f":8.05,"e":0.9},{"t":56123.5,"f":6.1,"e":0.5},{"t":56124.5,"f":9.3,"e":0.6},{"t":56125.5,"f":8.25,"e":0.5},{"t":56126.5,"f":8.2,"e":0.6},{"t":56127.5,"f":8.45,"e":0.5},{"t":56128.5,"f":10.45,"e":0.45},{"t":56129.5,"f":8.25,"e":0.5},{"t":56130.5,"f":7.65,"e":0.5},{"t":56131.5,"f":8.8,"e":0.5},{"t":56132.5,"f":8.6,"e":0.5},{"t":56133.5,"f":9.2,"e":0.5},{"t":56134.5,"f":6.4,"e":0.5},{"t":56135.5,"f":9.0,"e":0.45},{"t":56136.5,"f":6.8,"e":0.6},{"t":56137.5,"f":8.2,"e":0.9},{"t":56138.5,"f":8.05,"e":0.8},{"t":56139.5,"f":6.6,"e":0.6},{"t":56140.5,"f":9.0,"e":0.45},{"t":56141.5,"f":6.9,"e":0.4},{"t":56142.5,"f":8.8,"e":0.5},{"t":56143.5,"f":8.25,"e":0.5},{"t":56144.5,"f":10.8,"e":0.6},{"t":56145.5,"f":9.0,"e":0.45},{"t":56146.5,"f":9.2,"e":0.45},{"t":56147.5,"f":10.0,"e":0.45},{"t":56148.5,"f":7.95,"e":0.5},{"t":56149.5,"f":9.4,"e":0.45},{"t":56151.5,"f":8.95,"e":0.5},{"t":56152.5,"f":8.15,"e":0.5},{"t":56153.5,"f":10.0,"e":0.5},{"t":56154.5,"f":8.6,"e":0.5},{"t":56155.5,"f":13.6,"e":1.25},{"t":56156.5,"f":10.45,"e":3.0},{"t":56157.5,"f":7.65,"e":1.4},{"t":56158.5,"f":7.85,"e":1.6},{"t":56159.5,"f":8.05,"e":1.55},{"t":56160.5,"f":9.2,"e":0.6},{"t":56161.5,"f":9.5,"e":0.5},{"t":56162.5,"f":10.85,"e":0.5},{"t":56163.5,"f":8.05,"e":0.55},{"t":56164.5,"f":8.25,"e":0.5},
{"t":56166,"f":9.0,"e":1.3},{"t":56168,"f":6.4,"e":1.1},{"t":56172,"f":5.5,"e":1.0},{"t":56176,"f":6.7,"e":1.1},{"t":56180,"f":4.8,"e":1.0},{"t":56184,"f":5.9,"e":1.1},{"t":56188,"f":3.8,"e":1.2},{"t":56192,"f":5.2,"e":1.0},{"t":56196,"f":2.9,"e":1.1},{"t":56200,"f":4.6,"e":1.0},{"t":56204,"f":3.4,"e":1.2},{"t":56208,"f":5.8,"e":1.0},{"t":56212,"f":2.4,"e":1.1},{"t":56216,"f":4.2,"e":1.0},{"t":56220,"f":3.0,"e":1.2},{"t":56224,"f":5.3,"e":1.1},{"t":56228,"f":4.0,"e":1.0},{"t":56232,"f":6.1,"e":1.1},{"t":56234,"f":8.9,"e":1.2},{"t":56236,"f":5.0,"e":1.0},{"t":56240,"f":7.1,"e":1.1},{"t":56242,"f":15.0,"e":4.5},{"t":56244,"f":12.3,"e":1.5},{"t":56246,"f":16.5,"e":3.0},{"t":56248,"f":8.8,"e":1.6},{"t":56250,"f":4.4,"e":1.2},{"t":56252,"f":10.6,"e":2.0},{"t":56254,"f":3.2,"e":1.1},{"t":56268,"f":-4.5,"e":2.0},{"t":56272,"f":2.0,"e":1.3},{"t":56274,"f":6.8,"e":1.2},{"t":56278,"f":4.5,"e":1.3},{"t":56282,"f":11.0,"e":2.0},{"t":56284,"f":5.6,"e":1.3},{"t":56286,"f":15.9,"e":4.2},{"t":56288,"f":6.1,"e":1.5},{"t":56290,"f":19.6,"e":2.4},{"t":56292,"f":26.2,"e":5.0},{"t":56294,"f":8.0,"e":2.0},{"t":56296,"f":4.0,"e":1.2},{"t":56300,"f":14.3,"e":2.5},{"t":56302,"f":5.5,"e":1.1},{"t":56304,"f":3.0,"e":1.0},{"t":56308,"f":4.8,"e":1.2},{"t":56310,"f":9.2,"e":2.2},{"t":56312,"f":3.7,"e":1.0},{"t":56316,"f":2.4,"e":1.1},{"t":56320,"f":4.2,"e":1.0},{"t":56324,"f":1.9,"e":1.2},{"t":56328,"f":3.6,"e":1.0},{"t":56332,"f":2.2,"e":1.1},{"t":56336,"f":4.4,"e":1.0},{"t":56340,"f":1.6,"e":1.2},{"t":56344,"f":3.0,"e":1.0},{"t":56348,"f":4.9,"e":1.1},{"t":56352,"f":2.1,"e":1.0},{"t":56356,"f":3.4,"e":1.1},{"t":56360,"f":1.2,"e":1.2},{"t":56364,"f":2.8,"e":1.0},{"t":56368,"f":4.1,"e":1.1},{"t":56372,"f":1.5,"e":1.0},{"t":56376,"f":3.3,"e":1.1},{"t":56380,"f":0.4,"e":1.2},{"t":56384,"f":2.5,"e":1.0},{"t":56388,"f":-1.3,"e":1.1},{"t":56392,"f":1.8,"e":1.0},{"t":56395,"f":3.0,"e":1.1}
]},
"spacing":56,
"bounds":"flush",
"vconcat":[
{"width":771,"height":231,
"layer":[
{"data":{"name":"lc"},"mark":{"type":"errorbar","ticks":{"size":3.5},"color":"#000","thickness":1.6,"clip":true},
"encoding":{"x":{"field":"t","type":"quantitative","scale":{"domain":[53402,56399],"nice":false},"axis":{"orient":"bottom","values":[53500,54000,54500,55000,55500,56000],"format":"d","labelFontSize":13.5,"labelPadding":10,"title":"MJD (days)","titleFontSize":22,"titlePadding":2}},
"y":{"field":"f","type":"quantitative","scale":{"domain":[-6.35,31.35],"nice":false},"axis":{"orient":"left","values":[-5,0,5,10,15,20,25,30],"labelFontSize":15,"labelPadding":10,"title":"10⁻³ counts cm⁻² s⁻¹","titleFontSize":22,"titlePadding":4}},
"yError":{"field":"e"}}},
{"data":{"name":"lc"},"mark":{"type":"point","shape":"square","filled":true,"size":14,"color":"#000","opacity":1,"clip":true},"encoding":{"x":{"field":"t","type":"quantitative","scale":{"domain":[53402,56399],"nice":false},"axis":null},"y":{"field":"f","type":"quantitative","scale":{"domain":[-6.35,31.35],"nice":false},"axis":null}}},
{"data":{"values":[{"a":53591,"b":53699,"lo":-5,"hi":20}]},"mark":{"type":"rect","filled":false,"color":"#0000ff","strokeWidth":2,"strokeDash":[2,5.5]},"encoding":{"x":{"field":"a","type":"quantitative","scale":{"domain":[53402,56399],"nice":false},"axis":null},"x2":{"field":"b"},"y":{"field":"lo","type":"quantitative","scale":{"domain":[-6.35,31.35],"nice":false},"axis":null},"y2":{"field":"hi"}}},
{"data":{"values":[{"a":56057,"b":56165,"lo":-5,"hi":20}]},"mark":{"type":"rect","filled":false,"color":"#ff00ff","strokeWidth":2,"strokeDash":[2,5.5]},"encoding":{"x":{"field":"a","type":"quantitative","scale":{"domain":[53402,56399],"nice":false},"axis":null},"x2":{"field":"b"},"y":{"field":"lo","type":"quantitative","scale":{"domain":[-6.35,31.35],"nice":false},"axis":null},"y2":{"field":"hi"}}},
{"data":{"values":[{"t":53645}]},"mark":{"type":"rule","color":"#0000ff","strokeWidth":2},"encoding":{"x":{"field":"t","type":"quantitative","scale":{"domain":[53402,56399],"nice":false},"axis":null}}},
{"data":{"values":[{"t":56111}]},"mark":{"type":"rule","color":"#ff00ff","strokeWidth":2},"encoding":{"x":{"field":"t","type":"quantitative","scale":{"domain":[53402,56399],"nice":false},"axis":null}}},
{"data":{"values":[{"t":54000,"f":0}]},"mark":{"type":"point","opacity":0},"encoding":{"x":{"field":"t","type":"quantitative","scale":{"domain":[53402,56399],"nice":false},"axis":{"orient":"top","values":[53500,54000,54500,55000,55500,56000],"labels":false,"title":null,"domainColor":"#888","domainWidth":1.5}},"y":{"field":"f","type":"quantitative","scale":{"domain":[-6.35,31.35],"nice":false},"axis":{"orient":"right","values":[-5,0,5,10,15,20,25,30],"labels":false,"title":null,"domainColor":"#888","domainWidth":1.5}}}}
],
"resolve":{"axis":{"x":"independent","y":"independent"}}
},
{"hconcat":[
{"width":380,"height":232,
"layer":[
{"data":{"name":"lc"},"transform":[{"filter":{"field":"t","range":[53588,53702]}}],"mark":{"type":"errorbar","ticks":{"size":4},"color":"#222","thickness":1.2,"clip":true},
"encoding":{"x":{"field":"t","type":"quantitative","scale":{"domain":[53591,53699],"nice":false},"axis":{"orient":"bottom","values":[53600,53620,53640,53660,53680],"format":"d","labelFontSize":16,"labelPadding":7,"title":"MJD (days)","titleFontSize":22,"titlePadding":2}},
"y":{"field":"f","type":"quantitative","scale":{"domain":[-6,21.1],"nice":false},"axis":{"orient":"left","values":[-5,0,5,10,15,20],"labelFontSize":16,"labelPadding":10,"title":"10⁻³ counts cm⁻² s⁻¹","titleFontSize":22,"titlePadding":4}},
"yError":{"field":"e"}}},
{"data":{"name":"lc"},"transform":[{"filter":{"field":"t","range":[53588,53702]}}],"mark":{"type":"point","shape":"square","filled":true,"size":10,"color":"#000","opacity":1,"clip":true},"encoding":{"x":{"field":"t","type":"quantitative","scale":{"domain":[53591,53699],"nice":false},"axis":null},"y":{"field":"f","type":"quantitative","scale":{"domain":[-6,21.1],"nice":false},"axis":null}}},
{"data":{"values":[{"t":53642}]},"mark":{"type":"rule","color":"#14a08c","strokeWidth":2,"strokeDash":[2,4.7]},"encoding":{"x":{"field":"t","type":"quantitative","scale":{"domain":[53591,53699],"nice":false},"axis":null}}},
{"data":{"values":[{"t":53645}]},"mark":{"type":"rule","color":"#0000ff","strokeWidth":2},"encoding":{"x":{"field":"t","type":"quantitative","scale":{"domain":[53591,53699],"nice":false},"axis":null}}},
{"data":{"values":[{"t":53620,"f":0}]},"mark":{"type":"point","opacity":0},"encoding":{"x":{"field":"t","type":"quantitative","scale":{"domain":[53591,53699],"nice":false},"axis":{"orient":"top","values":[53600,53620,53640,53660,53680],"labels":false,"title":null,"domainColor":"#888","domainWidth":1.5}},"y":{"field":"f","type":"quantitative","scale":{"domain":[-6,21.1],"nice":false},"axis":{"orient":"right","values":[-5,0,5,10,15,20],"labels":false,"title":null,"domainColor":"#888","domainWidth":1.5}}}}
],
"resolve":{"axis":{"x":"independent","y":"independent"}}
},
{"width":380,"height":232,
"layer":[
{"data":{"name":"lc"},"transform":[{"filter":{"field":"t","range":[56054,56168]}}],"mark":{"type":"errorbar","ticks":{"size":4},"color":"#222","thickness":1.2,"clip":true},
"encoding":{"x":{"field":"t","type":"quantitative","scale":{"domain":[56056.7,56165.3],"nice":false},"axis":{"orient":"bottom","values":[56060,56080,56100,56120,56140,56160],"format":"d","labelFontSize":16,"labelPadding":7,"title":"MJD (days)","titleFontSize":22,"titlePadding":2}},
"y":{"field":"f","type":"quantitative","scale":{"domain":[-6,21.1],"nice":false},"axis":{"orient":"left","values":[-5,0,5,10,15,20],"labels":false,"title":null}},
"yError":{"field":"e"}}},
{"data":{"name":"lc"},"transform":[{"filter":{"field":"t","range":[56054,56168]}}],"mark":{"type":"point","shape":"square","filled":true,"size":10,"color":"#000","opacity":1,"clip":true},"encoding":{"x":{"field":"t","type":"quantitative","scale":{"domain":[56056.7,56165.3],"nice":false},"axis":null},"y":{"field":"f","type":"quantitative","scale":{"domain":[-6,21.1],"nice":false},"axis":null}}},
{"data":{"values":[{"t":56152}]},"mark":{"type":"rule","color":"#14a08c","strokeWidth":2,"strokeDash":[2,4.7]},"encoding":{"x":{"field":"t","type":"quantitative","scale":{"domain":[56056.7,56165.3],"nice":false},"axis":null}}},
{"data":{"values":[{"t":56111}]},"mark":{"type":"rule","color":"#ff00ff","strokeWidth":2},"encoding":{"x":{"field":"t","type":"quantitative","scale":{"domain":[56056.7,56165.3],"nice":false},"axis":null}}},
{"data":{"values":[{"t":56100,"f":0}]},"mark":{"type":"point","opacity":0},"encoding":{"x":{"field":"t","type":"quantitative","scale":{"domain":[56056.7,56165.3],"nice":false},"axis":{"orient":"top","values":[56060,56080,56100,56120,56140,56160],"labels":false,"title":null,"domainColor":"#888","domainWidth":1.5}},"y":{"field":"f","type":"quantitative","scale":{"domain":[-6,21.1],"nice":false},"axis":{"orient":"right","values":[-5,0,5,10,15,20],"labels":false,"title":null,"domainColor":"#888","domainWidth":1.5}}}}
],
"resolve":{"axis":{"x":"independent","y":"independent"}}
}
],"spacing":10,"bounds":"flush"}
]
}
